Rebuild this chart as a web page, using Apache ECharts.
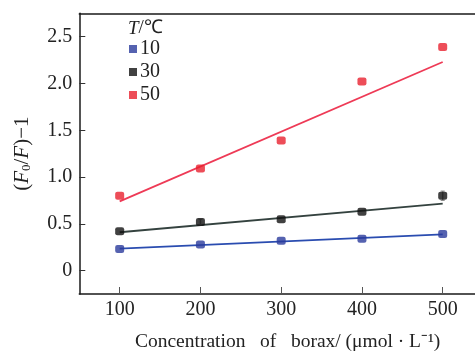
<!DOCTYPE html>
<html>
<head>
<meta charset="utf-8">
<script src="https://cdn.jsdelivr.net/npm/echarts@6/dist/echarts.min.js"></script>
<style>
html,body{margin:0;padding:0;background:#fff;}
#c{width:475px;height:351px;}
</style>
</head>
<body>
<div id="c"></div>
<script>
// ---- data ----
var concentrations = [100, 200, 300, 400, 500];
var xTicks = [100, 200, 300, 400, 500];
var yTicks = [0, 0.5, 1.0, 1.5, 2.0, 2.5];
var seriesNames = ['10', '30', '50'];
var t10 = [0.23, 0.28, 0.32, 0.34, 0.39];
var t30 = [0.42, 0.52, 0.55, 0.63, 0.80];
var t50 = [0.80, 1.09, 1.39, 2.02, 2.39];
var t30Err = [0, 0.03, 0, 0, 0.05];
var fitX = [100, 500];
var fit10 = [0.236, 0.388];
var fit30 = [0.41, 0.715];
var fit50 = [0.74, 2.23];

var colors = ['#2b3b9c', '#111111', '#e8202e'];
var lineColors = ['#2a4cb0', '#34423f', '#ee3a56'];
var FONT = '"Liberation Serif", "Times New Roman", serif';

function pairs(xs, ys) { return xs.map(function (x, i) { return [x, ys[i]]; }); }

var chart = echarts.init(document.getElementById('c'), null, { renderer: 'canvas' });

var pointSets = [t10, t30, t50];
var fitSets = [fit10, fit30, fit50];
var series = [];
fitSets.forEach(function (f, i) {
  series.push({
    name: 'fit' + seriesNames[i], type: 'line', data: pairs(fitX, f),
    symbol: 'none', lineStyle: { color: lineColors[i], width: 1.8 },
    silent: true, z: 2, animation: false
  });
});
series.push({
  name: 'err30', type: 'custom', data: pairs(concentrations, t30).map(function (p, i) { return [p[0], p[1], t30Err[i]]; }),
  renderItem: function (params, api) {
    var x = api.value(0), y = api.value(1), e = api.value(2);
    if (!e) return null;
    var a = api.coord([x, y - e]), b = api.coord([x, y + e]);
    return { type: 'group', children: [
      { type: 'line', shape: { x1: a[0], y1: a[1], x2: b[0], y2: b[1] }, style: { stroke: '#888', lineWidth: 1.5 } },
      { type: 'line', shape: { x1: a[0] - 2, y1: a[1], x2: a[0] + 2, y2: a[1] }, style: { stroke: '#888', lineWidth: 1 } },
      { type: 'line', shape: { x1: b[0] - 2, y1: b[1], x2: b[0] + 2, y2: b[1] }, style: { stroke: '#888', lineWidth: 1 } }
    ] };
  },
  z: 3, silent: true, animation: false
});
pointSets.forEach(function (d, i) {
  series.push({
    name: seriesNames[i], type: 'scatter', data: pairs(concentrations, d),
    symbol: 'roundRect', symbolSize: [9, 8],
    itemStyle: { color: colors[i] }, z: 4, animation: false
  });
});

chart.setOption({
  animation: false,
  backgroundColor: '#fff',
  grid: { left: 79.3, top: 13.3, right: 0, bottom: 57, containLabel: false, outerBoundsMode: 'none' },
  legend: {
    data: seriesNames.map(function (n) { return { name: n, icon: 'rect' }; }),
    orient: 'vertical', left: 129, top: 39, padding: 0,
    itemWidth: 8, itemHeight: 8, itemGap: 3,
    textStyle: { fontFamily: FONT, fontSize: 20, color: '#222', lineHeight: 20, padding: [0, 0, 0, -2] }
  },
  graphic: [{
    type: 'text', left: 128, top: 19,
    style: {
      text: '{i|T}{n|/℃}',
      rich: {
        i: { fontFamily: FONT, fontStyle: 'italic', fontSize: 19, fill: '#222' },
        n: { fontFamily: FONT, fontSize: 19, fill: '#222' }
      }
    }
  }],
  xAxis: [{
    type: 'value', min: 50, max: 540,
    axisLine: { show: true, onZero: false, lineStyle: { color: '#1a1a1a', width: 1.5 } },
    axisTick: { show: true, inside: true, length: 7, lineStyle: { color: '#555', width: 1 }, customValues: xTicks },
    axisLabel: { customValues: xTicks, fontFamily: FONT, fontSize: 20, color: '#222', margin: 6 },
    splitLine: { show: false },
    name: 'Concentration   of   borax/ (μmol · L⁻¹)',
    nameLocation: 'middle', nameGap: 38,
    nameTextStyle: { fontFamily: FONT, fontSize: 19.5, color: '#222', padding: [0, 0, 0, 21] }
  }, {
    type: 'value', position: 'top', min: 50, max: 540,
    axisLine: { show: true, onZero: false, lineStyle: { color: '#1a1a1a', width: 1.5 } },
    axisTick: { show: false }, axisLabel: { show: false }, splitLine: { show: false }
  }],
  yAxis: {
    type: 'value', min: -0.25, max: 2.75,
    axisLine: { show: true, onZero: false, lineStyle: { color: '#1a1a1a', width: 1.5 } },
    axisTick: { show: true, inside: true, length: 6, lineStyle: { color: '#333', width: 1 }, customValues: yTicks },
    axisLabel: {
      customValues: yTicks, fontFamily: FONT, fontSize: 20, color: '#222', margin: 7,
      formatter: function (v) { return v === 0 ? '0' : v.toFixed(1); }
    },
    splitLine: { show: false },
    name: '({i|F}{s|0}/{i|F})−1',
    nameLocation: 'middle', nameGap: 46,
    nameTextStyle: {
      fontFamily: FONT, fontSize: 21, color: '#222',
      rich: {
        i: { fontFamily: FONT, fontStyle: 'italic', fontSize: 21, color: '#222' },
        s: { fontFamily: FONT, fontSize: 13, color: '#222', verticalAlign: 'bottom', padding: [9, 0, 0, 0] }
      }
    }
  },
  series: series
});
</script>
</body>
</html>
